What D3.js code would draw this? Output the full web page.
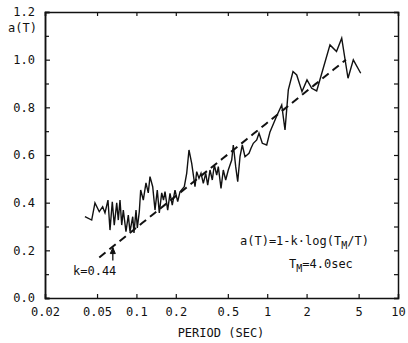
<!DOCTYPE html>
<html><head><meta charset="utf-8">
<script src="https://cdn.jsdelivr.net/npm/d3@7"></script>
<style>body{margin:0;background:#fff}svg{display:block}text{font-family:"DejaVu Sans Mono",monospace;fill:#111}</style>
</head><body><svg id="c" width="408" height="343"></svg>
<script>
const periods = [0.0404,0.0455,0.0482,0.0520,0.0552,0.0575,0.0606,0.0628,0.0654,0.0677,0.0707,0.0727,0.0749,0.0772,0.0794,0.0832,0.0867,0.0893,0.0937,0.0958,0.0993,0.1016,0.1052,0.1078,0.1129,0.1183,0.1232,0.1270,0.1332,0.1387,0.1444,0.1496,0.1561,0.1611,0.1654,0.1734,0.1806,0.1880,0.1972,0.2068,0.2154,0.2323,0.2423,0.2523,0.2647,0.2805,0.2890,0.3010,0.3118,0.3247,0.3387,0.3508,0.3653,0.3804,0.3940,0.4110,0.4228,0.4433,0.4616,0.4815,0.5040,0.5352,0.5505,0.5743,0.5949,0.6194,0.6451,0.6764,0.7258,0.7518,0.7829,0.8313,0.8655,0.9173,0.9911,1.050,1.182,1.291,1.368,1.450,1.575,1.681,1.845,2.015,2.189,2.389,2.685,3.020,3.387,3.712,4.148,4.553,5.187];
const values = [0.341,0.327,0.399,0.362,0.383,0.357,0.411,0.285,0.404,0.306,0.399,0.327,0.411,0.306,0.369,0.278,0.348,0.278,0.341,0.273,0.369,0.294,0.362,0.453,0.411,0.483,0.441,0.509,0.467,0.369,0.453,0.357,0.441,0.411,0.446,0.369,0.439,0.390,0.453,0.404,0.446,0.467,0.523,0.621,0.565,0.467,0.530,0.502,0.523,0.481,0.523,0.474,0.537,0.495,0.558,0.516,0.551,0.460,0.537,0.495,0.537,0.579,0.642,0.551,0.488,0.593,0.642,0.593,0.607,0.628,0.649,0.663,0.691,0.649,0.642,0.697,0.764,0.810,0.705,0.873,0.950,0.936,0.866,0.915,0.880,0.869,0.965,1.062,1.034,1.090,0.922,0.999,0.943];
const k = 0.44, TM = 4.0;
const fitRange = [0.052, 4.0];
const arrowT = 0.066;
const xTicks = [0.02,0.05,0.1,0.2,0.5,1,2,5,10];
const xTickLabels = ["0.02","0.05","0.1","0.2","0.5","1","2","5","10"];
const yTicks = [0,0.2,0.4,0.6,0.8,1.0,1.2];
const yMinor = [0.1,0.3,0.5,0.7,0.9,1.1];

const svg = d3.select("#c");
const L=45,R=398,T=12,B=298;
const x = d3.scaleLog().domain([0.02,10]).range([L,R]);
const y = d3.scaleLinear().domain([0,1.2]).range([B,T]);

// axes
const axB = d3.axisBottom(x).tickValues(xTicks).tickSize(-4).tickPadding(9).tickFormat((d,i)=>xTickLabels[i]);
const gB = svg.append("g").attr("transform",`translate(0,${B})`).call(axB);
const axT = d3.axisTop(x).tickValues(xTicks).tickSize(-4).tickFormat("");
const gT = svg.append("g").attr("transform",`translate(0,${T})`).call(axT);
const axL = d3.axisLeft(y).tickValues(yTicks).tickSize(-5).tickPadding(9).tickFormat(d3.format(".1f"));
const gL = svg.append("g").attr("transform",`translate(${L},0)`).call(axL);
const axLm = d3.axisLeft(y).tickValues(yMinor).tickSize(-4).tickFormat("");
const gLm = svg.append("g").attr("transform",`translate(${L},0)`).call(axLm);
const axR = d3.axisRight(y).tickValues(yTicks.concat(yMinor)).tickSize(-4).tickFormat("");
const gR = svg.append("g").attr("transform",`translate(${R},0)`).call(axR);
[gB,gT,gL,gLm,gR].forEach(g=>{
  g.select(".domain").attr("stroke","#111").attr("stroke-width",1.5);
  g.selectAll(".tick line").attr("stroke","#111").attr("stroke-width",1.2);
  g.selectAll("text").attr("font-size",12).attr("font-family","DejaVu Sans Mono").attr("fill","#111");
});
gL.selectAll(".tick text").attr("dx",-1);

// fitted dashed line
const fitT = d3.range(0,41).map(i=>fitRange[0]*Math.pow(fitRange[1]/fitRange[0],i/40));
svg.append("path").datum(fitT)
  .attr("fill","none").attr("stroke","#111").attr("stroke-width",2).attr("stroke-dasharray","8,5")
  .attr("d",d3.line().x(d=>x(d)).y(d=>y(1-k*Math.log10(TM/d))));

// data line
const data = periods.map((p,i)=>[p,values[i]]);
svg.append("path").datum(data).attr("fill","none").attr("stroke","#111").attr("stroke-width",1.4)
  .attr("stroke-linejoin","miter")
  .attr("d",d3.line().x(d=>x(d[0])).y(d=>y(d[1])));

// arrow for k
const ax = x(arrowT);
const ay = y(1-k*Math.log10(TM/arrowT));
svg.append("line").attr("x1",ax).attr("x2",ax).attr("y1",ay+14).attr("y2",ay+1).attr("stroke","#111").attr("stroke-width",1.3);
svg.append("path").attr("d",`M${ax-2.5},${ay+7} L${ax},${ay+1} L${ax+2.5},${ay+7} Z`).attr("fill","#111").attr("stroke","#111").attr("stroke-width",1);
svg.append("text").attr("x",73).attr("y",275).attr("font-size",12).text("k=0.44");

// formula
const f = svg.append("text").attr("x",240).attr("y",245).attr("font-size",12);
f.append("tspan").text("a(T)=1-k\u00b7log(T");
f.append("tspan").attr("font-size",10).attr("dy",4).text("M");
f.append("tspan").attr("dy",-4).text("/T)");
const f2 = svg.append("text").attr("x",289).attr("y",268).attr("font-size",12);
f2.append("tspan").text("T");
f2.append("tspan").attr("font-size",10).attr("dy",4).text("M");
f2.append("tspan").attr("dy",-4).text("=4.0sec");

// axis titles
svg.append("text").attr("x",8).attr("y",32).attr("font-size",12).text("a(T)");
svg.append("text").attr("x",221).attr("y",337).attr("text-anchor","middle").attr("font-size",12).text("PERIOD (SEC)");
</script></body></html>
